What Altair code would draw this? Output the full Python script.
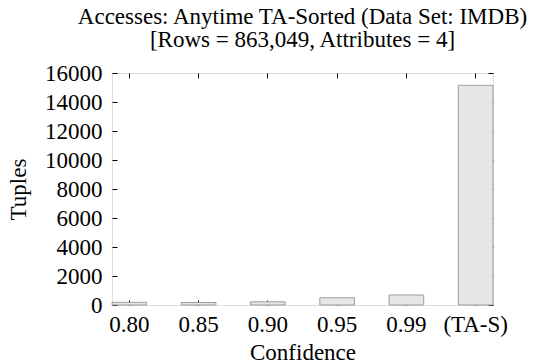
import altair as alt
import pandas as pd

categories = ["0.80", "0.85", "0.90", "0.95", "0.99", "(TA-S)"]
tuples = [180, 170, 220, 500, 690, 15150]
y_ticks = [0, 2000, 4000, 6000, 8000, 10000, 12000, 14000, 16000]

title_lines = ["Accesses: Anytime TA-Sorted (Data Set: IMDB)",
               "[Rows = 863,049, Attributes = 4]"]

FONT = "Liberation Serif"
FS = 23

df = pd.DataFrame({"Confidence": categories, "Tuples": tuples})

xscale = alt.Scale(paddingInner=0.5, paddingOuter=0)
yscale = alt.Scale(domain=[0, 16000], nice=False)

tick_common = dict(domain=False, grid=False, tickSize=5, tickColor="black",
                   tickWidth=1, offset=-5)

bars = alt.Chart(df).mark_bar(
    fill="#e6e6e6", stroke="#9c9c9c", strokeWidth=1
).encode(
    x=alt.X("Confidence:N", sort=categories, scale=xscale,
            axis=alt.Axis(orient="bottom", labelAngle=0, labelPadding=8,
                          labelFont=FONT, labelFontSize=FS, labelColor="black",
                          title="Confidence", titleFont=FONT, titleFontSize=FS,
                          titleFontWeight="normal", titleColor="black",
                          titlePadding=5, **tick_common)),
    y=alt.Y("Tuples:Q", scale=yscale,
            axis=alt.Axis(orient="left", values=y_ticks, format="d",
                          labelPadding=10, labelFont=FONT, labelFontSize=FS,
                          labelColor="black", labelOverlap=False,
                          title="Tuples", titleFont=FONT, titleFontSize=FS,
                          titleFontWeight="normal", titleColor="black",
                          titlePadding=14, **tick_common)),
)

mirror = alt.Chart(df).mark_bar(opacity=0).encode(
    x=alt.X("Confidence:N", sort=categories, scale=xscale,
            axis=alt.Axis(orient="top", labels=False, title=None, **tick_common)),
    y=alt.Y("Tuples:Q", scale=yscale,
            axis=alt.Axis(orient="right", values=y_ticks, labels=False,
                          title=None, **tick_common)),
)

chart = alt.layer(bars, mirror).resolve_axis(
    x="independent", y="independent"
).properties(
    width=381,
    height=232,
    title=alt.TitleParams(text=title_lines, font=FONT, fontSize=23,
                          fontWeight="normal", color="black", anchor="middle",
                          lineHeight=23, offset=10),
    autosize=alt.AutoSizeParams(type="none"),
    padding={"left": 112, "top": 73, "right": 45, "bottom": 58},
).configure_view(
    stroke="#888888", strokeWidth=1.5
).configure_axisLeft(
    labelFontSize=FS, labelFont=FONT
).configure_axisY(
    labelFontSize=FS, labelFont=FONT
).configure(background="white")

chart.save("out.html", embed_options={"renderer": "svg", "actions": False})
